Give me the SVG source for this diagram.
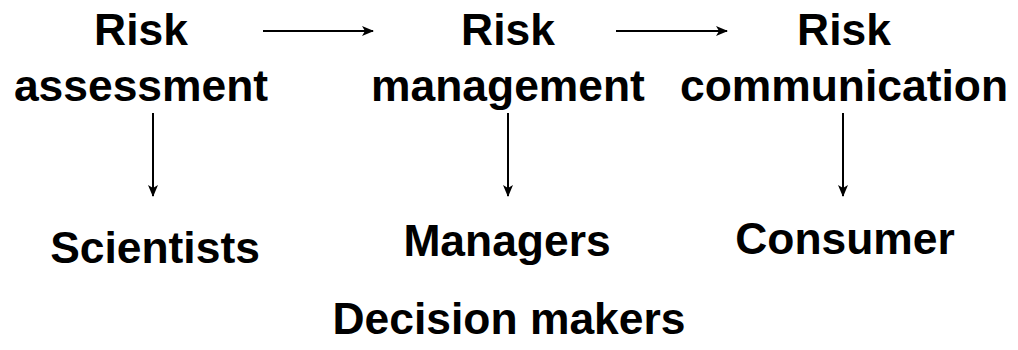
<svg xmlns="http://www.w3.org/2000/svg" width="1018" height="350" viewBox="0 0 1018 350">
  <style>
    .t { font-family: "Liberation Sans", Arial, sans-serif; font-weight: bold; font-size: 44.4px; fill: #000; text-anchor: middle; }
    .c { stroke: #000; stroke-width: 2; fill: none; marker-end: url(#ah); }
  </style>
  <defs>
    <marker id="ah" viewBox="0 0 12 10" refX="11" refY="5" markerWidth="6" markerHeight="5" orient="auto" markerUnits="strokeWidth">
      <path d="M0,0 L12,5 L0,10 L3,5 Z" fill="#000"/>
    </marker>
  </defs>
  <rect width="1018" height="350" fill="#fff"/>

  <g id="assessment">
    <text class="t" x="141" y="45">Risk</text>
    <text class="t" x="141" y="101">assessment</text>
  </g>
  <g id="management">
    <text class="t" x="508" y="45">Risk</text>
    <text class="t" x="508" y="101">management</text>
  </g>
  <g id="communication">
    <text class="t" x="844" y="45">Risk</text>
    <text class="t" x="844" y="101">communication</text>
  </g>
  <g id="scientists">
    <text class="t" x="155" y="263">Scientists</text>
  </g>
  <g id="managers">
    <text class="t" x="507" y="256">Managers</text>
    <text class="t" x="509" y="334">Decision makers</text>
  </g>
  <g id="consumer">
    <text class="t" x="845" y="254">Consumer</text>
  </g>

  <g id="connectors">
    <line class="c" x1="263" y1="31" x2="373" y2="31"/>
    <line class="c" x1="616" y1="31" x2="727" y2="31"/>
    <line class="c" x1="153" y1="113" x2="153" y2="196"/>
    <line class="c" x1="508" y1="113" x2="508" y2="196"/>
    <line class="c" x1="843" y1="113" x2="843" y2="196"/>
  </g>
</svg>
